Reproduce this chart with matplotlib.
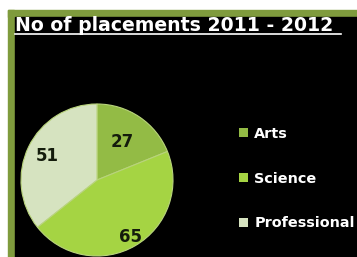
import numpy as np
import matplotlib.pyplot as plt
from matplotlib.patches import Rectangle

# data
labels = ['Arts', 'Science', 'Professional']
values = [27, 65, 51]
colors = ['#93bb45', '#a5d443', '#d6e3c0']
label_dist = [0.60, 0.87, 0.72]
title = 'No of placements 2011 - 2012'

W, H = 357, 257
fig = plt.figure(figsize=(W / 100, H / 100), dpi=100, facecolor='white')

# frame: olive border with black panel
border = '#7f9b3d'
fig.patches.append(Rectangle((8 / W, 1 - 17 / H), 349 / W, 7 / H,
                             transform=fig.transFigure, color=border, zorder=-2))
fig.patches.append(Rectangle((8 / W, 0), 6 / W, 1 - 10 / H,
                             transform=fig.transFigure, color=border, zorder=-2))
fig.patches.append(Rectangle((15 / W, 0), 1 - 15 / W, 1 - 17 / H,
                             transform=fig.transFigure, color='black', zorder=-2))

# title
fig.text(15 / W, 1 - 31 / H, title, color='white', fontsize=13.6,
         fontweight='bold', family='DejaVu Sans', ha='left', va='baseline')
fig.add_artist(plt.Line2D([15 / W, 341 / W], [1 - 34 / H, 1 - 34 / H],
                          color='white', lw=1.2, transform=fig.transFigure))

# pie
cx, cy, r = 97, 180, 76
ax = fig.add_axes([(cx - r) / W, (H - cy - r) / H, 2 * r / W, 2 * r / H],
                  zorder=3)
ax.set_facecolor('none')
wedges, _ = ax.pie(values, colors=colors, startangle=90, counterclock=False,
                   wedgeprops=dict(edgecolor='#b9d47c', linewidth=0.8))
ax.set_xlim(-1, 1)
ax.set_ylim(-1, 1)
ax.set_aspect('equal')
ax.axis('off')

for w, v, d in zip(wedges, values, label_dist):
    ang = np.deg2rad((w.theta1 + w.theta2) / 2)
    ax.text(d * np.cos(ang), d * np.sin(ang), str(v), ha='center', va='center',
            fontsize=12, fontweight='bold', color='#141c0c')

# legend
leg = fig.legend(wedges, labels, loc='upper left',
                 bbox_to_anchor=(226 / W, 1 - 114 / H), frameon=False,
                 prop=dict(size=10.4, weight='bold'), labelcolor='white',
                 handlelength=0.6, handleheight=0.6, handletextpad=0.45,
                 labelspacing=2.12)
leg.set_zorder(3)
for h in leg.legend_handles:
    h.set_edgecolor('none')

fig.savefig('out.png', dpi=100, facecolor='white')
